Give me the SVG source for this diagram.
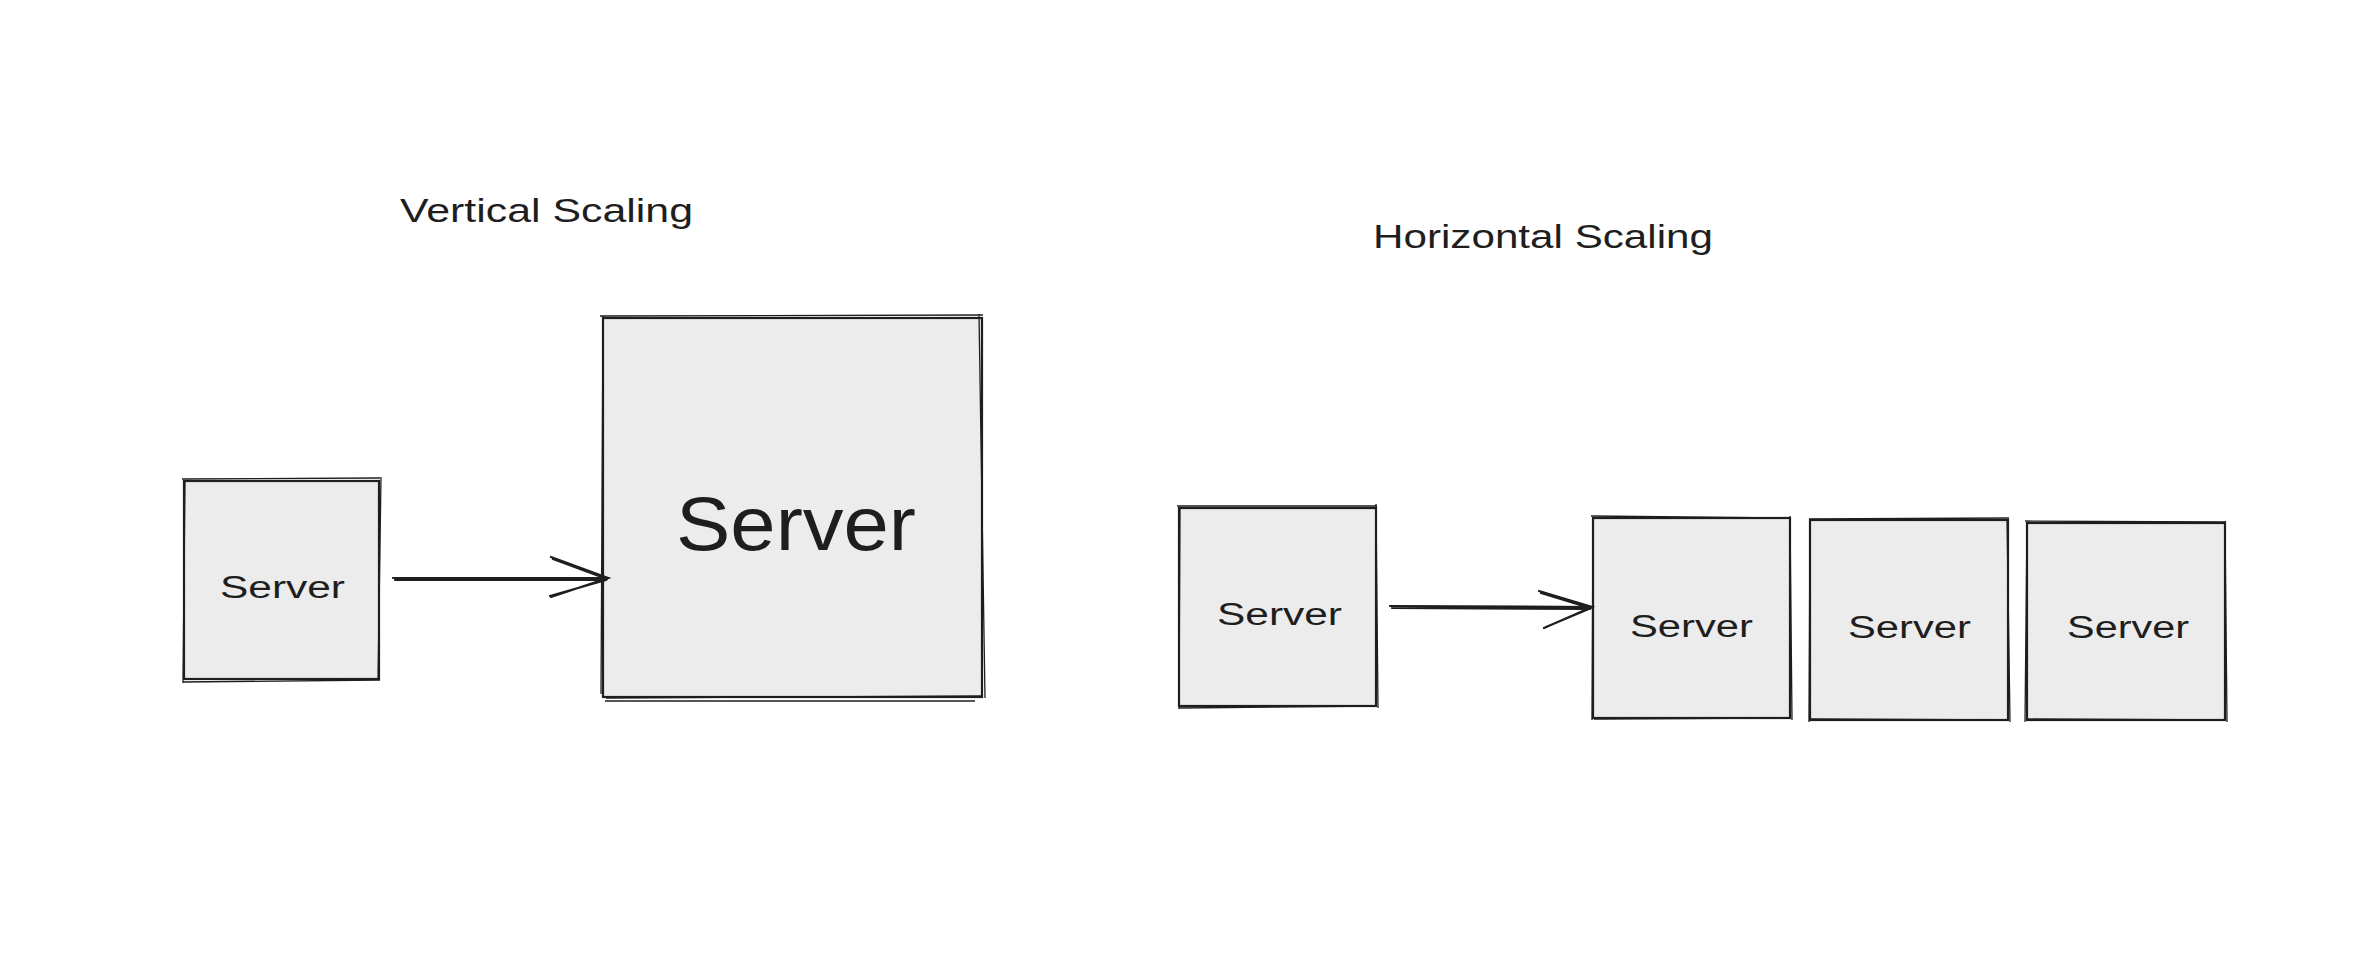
<svg xmlns="http://www.w3.org/2000/svg" width="2371" height="954" viewBox="0 0 2371 954">
<style>
.box{fill:#ececec;stroke:#1e1e1e;stroke-width:2.2}
.sk{fill:none;stroke:#1e1e1e;stroke-width:1.3}
.t{font-family:"Liberation Sans","Noto Sans",sans-serif;fill:#1e1e1e}
.c{stroke:#1e1e1e;stroke-width:2.2;fill:none;stroke-linecap:round}
</style>
<rect width="2371" height="954" fill="#ffffff"/>
<g id="title-vertical"><text class="t" x="400" y="222" font-size="33" textLength="293" lengthAdjust="spacingAndGlyphs">Vertical Scaling</text></g>
<g id="title-horizontal"><text class="t" x="1373" y="248" font-size="33" textLength="340" lengthAdjust="spacingAndGlyphs">Horizontal Scaling</text></g>

<g id="server-small">
<rect class="box" x="184" y="481" width="195" height="198"/>
<path class="sk" d="M182 479 L380 478 M381 477 L378 681 M380 680 L183 682 M183 683 L185 480"/>
<text class="t" x="220" y="598" font-size="31" textLength="125" lengthAdjust="spacingAndGlyphs">Server</text>
</g>
<g id="server-big">
<rect class="box" x="603" y="318" width="379" height="379"/>
<path class="sk" d="M600 316 L983 315 M979 314 L985 698 M983 696 L606 698 M601 694 L603 316 M605 701 L975 701"/>
<text class="t" x="676" y="550" font-size="76" textLength="240" lengthAdjust="spacingAndGlyphs">Server</text>
</g>
<g id="server-h1">
<rect class="box" x="1179" y="508" width="197" height="198"/>
<path class="sk" d="M1177 506 L1377 506 M1376 504 L1378 708 M1377 706 L1179 708 M1179 709 L1180 507"/>
<text class="t" x="1217" y="625" font-size="31" textLength="125" lengthAdjust="spacingAndGlyphs">Server</text>
</g>
<g id="server-h2">
<rect class="box" x="1593" y="518" width="197" height="200"/>
<path class="sk" d="M1591 516 L1791 518 M1790 516 L1792 720 M1790 718 L1594 719 M1592 720 L1593 517"/>
<text class="t" x="1630" y="637" font-size="31" textLength="123" lengthAdjust="spacingAndGlyphs">Server</text>
</g>
<g id="server-h3">
<rect class="box" x="1810" y="520" width="198" height="200"/>
<path class="sk" d="M1809 519 L2009 518 M2007 518 L2010 722 M2009 720 L1811 719 M1809 722 L1810 519"/>
<text class="t" x="1848" y="638" font-size="31" textLength="123" lengthAdjust="spacingAndGlyphs">Server</text>
</g>
<g id="server-h4">
<rect class="box" x="2027" y="523" width="198" height="197"/>
<path class="sk" d="M2025 521 L2226 522 M2225 521 L2227 722 M2226 720 L2028 719 M2025 722 L2027 522"/>
<text class="t" x="2067" y="638" font-size="31" textLength="122" lengthAdjust="spacingAndGlyphs">Server</text>
</g>

<g id="connectors">
<path class="c" d="M393 578 L609 578 M395 580 L606 580 M551 557 L608 578 L551 597 M553 559 L607 579 M550 596 L606 580"/>
<path class="c" d="M1390 606 L1592 607 M1392 608 L1590 609 M1539 591 L1592 607 L1544 628 M1541 593 L1590 608 M1546 627 L1591 608"/>
</g>
</svg>
